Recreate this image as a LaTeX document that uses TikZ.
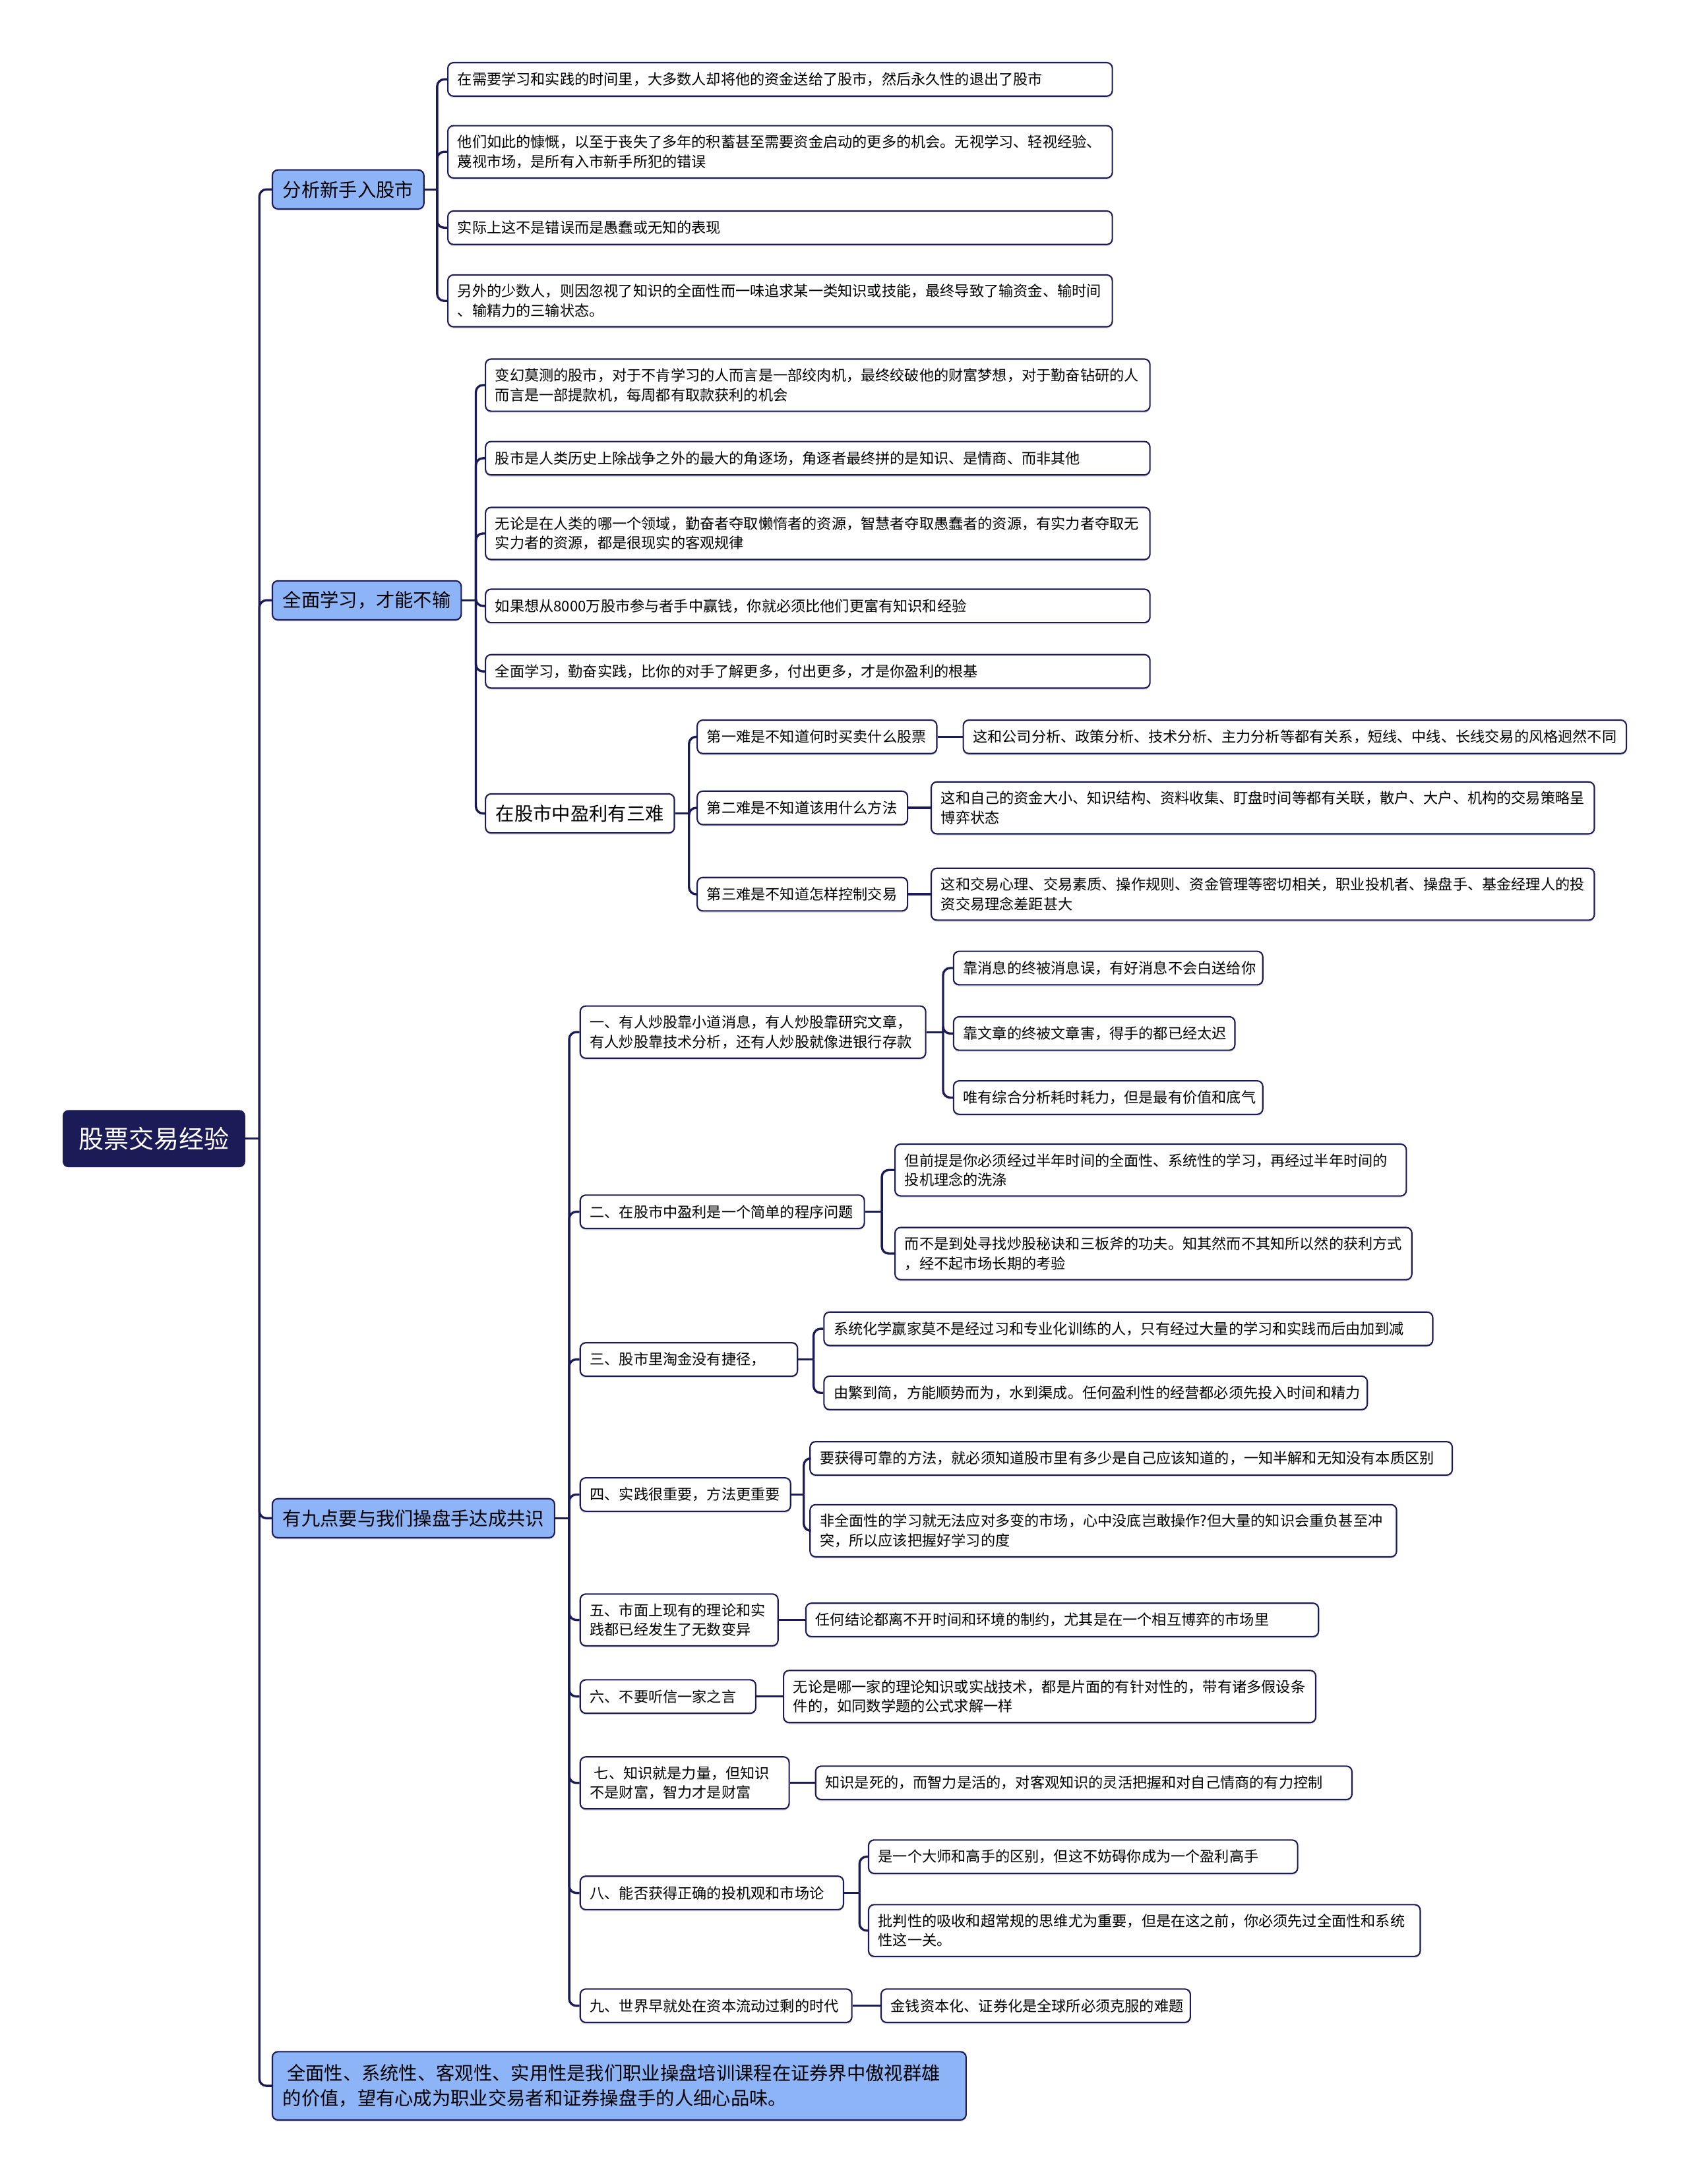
\documentclass[tikz,border=0pt]{standalone}
\usepackage{fontspec}
\setmainfont{Noto Sans CJK SC}
\usepackage{tikz}
\usetikzlibrary{positioning}
\usetikzlibrary{shadows}

\definecolor{navy}{RGB}{27,27,88}
\definecolor{topicblue}{RGB}{142,180,248}

\begin{document}
\begin{tikzpicture}[x=1pt, y=-1pt,
        root/.style={fill=navy, text=white, rounded corners=4pt, minimum width=131pt, minimum height=41pt,
            font=\fontsize{18}{22}\selectfont},
        topic/.style={draw=navy, fill=topicblue, line width=1pt, rounded corners=4pt, anchor=west,
            inner xsep=7.5pt, inner ysep=7pt, minimum height=28pt, align=left,
            font=\fontsize{13.4}{18}\selectfont,
            drop shadow={shadow xshift=0pt, shadow yshift=-1.2pt, opacity=0.3}},
        subtopic/.style={topic, fill=white},
        leaf/.style={draw=navy, fill=white, line width=1pt, rounded corners=4pt, anchor=west,
            inner xsep=7pt, inner ysep=6.7pt, minimum height=24pt, align=left,
            font=\fontsize{10.5}{14}\selectfont,
            drop shadow={shadow xshift=0pt, shadow yshift=-1.2pt, opacity=0.3}},
        link/.style={draw=navy, line width=1.6pt, rounded corners=5pt}]

        \useasboundingbox (0,0) rectangle (1212,1568);

        % root and main topics
        \node[root] (stock) at (110.5,817.5) {股票交易经验};
        \node[topic] (novice) at (195,136) {分析新手入股市};
        \node[topic] (learn) at (195,431) {全面学习，才能不输};
        \node[topic] (nine) at (195,1090) {有九点要与我们操盘手达成共识};
        \node[topic, text width=483pt, minimum height=49pt] (summary) at (195,1497.5)
            {\hspace*{3pt}全面性、系统性、客观性、实用性是我们职业操盘培训课程在证券界中傲视群雄\\的价值，望有心成为职业交易者和证券操盘手的人细心品味。};

        \coordinate[right=10pt of stock] (jstock);
        \draw[link] (stock.east) -- (jstock);
        \foreach \c in {novice,learn,nine,summary}
            \draw[link] (jstock) |- (\c.west);

        % novice branch
        \begin{scope}
            \node[leaf, text width=463pt] (novice1) at (321,57) {在需要学习和实践的时间里，大多数人却将他的资金送给了股市，然后永久性的退出了股市};
            \node[leaf, text width=463pt] (novice2) at (321,109) {他们如此的慷慨，以至于丧失了多年的积蓄甚至需要资金启动的更多的机会。无视学习、轻视经验、\\蔑视市场，是所有入市新手所犯的错误};
            \node[leaf, text width=463pt] (novice3) at (321,163.5) {实际上这不是错误而是愚蠢或无知的表现};
            \node[leaf, text width=463pt] (novice4) at (321,216) {另外的少数人，则因忽视了知识的全面性而一味追求某一类知识或技能，最终导致了输资金、输时间\\、输精力的三输状态。};

            \coordinate[right=9pt of novice] (jnovice);
            \draw[link] (novice.east) -- (jnovice);
            \foreach \c in {novice1,novice2,novice3,novice4}
                \draw[link] (jnovice) |- (\c.west);
        \end{scope}

        % learn branch
        \begin{scope}
            \node[leaf, text width=463pt] (learn1) at (348,276.5) {变幻莫测的股市，对于不肯学习的人而言是一部绞肉机，最终绞破他的财富梦想，对于勤奋钻研的人\\而言是一部提款机，每周都有取款获利的机会};
            \node[leaf, text width=463pt] (learn2) at (348,329) {股市是人类历史上除战争之外的最大的角逐场，角逐者最终拼的是知识、是情商、而非其他};
            \node[leaf, text width=463pt] (learn3) at (348,383) {无论是在人类的哪一个领域，勤奋者夺取懒惰者的资源，智慧者夺取愚蠢者的资源，有实力者夺取无\\实力者的资源，都是很现实的客观规律};
            \node[leaf, text width=463pt] (learn4) at (348,435) {如果想从8000万股市参与者手中赢钱，你就必须比他们更富有知识和经验};
            \node[leaf, text width=463pt] (learn5) at (348,482) {全面学习，勤奋实践，比你的对手了解更多，付出更多，才是你盈利的根基};
            \node[subtopic] (three) at (348,584) {在股市中盈利有三难};

            \coordinate[right=10pt of learn] (jlearn);
            \draw[link] (learn.east) -- (jlearn);
            \foreach \c in {learn1,learn2,learn3,learn4,learn5,three}
                \draw[link] (jlearn) |- (\c.west);

            % three difficulties
            \node[leaf, text width=158pt] (hard1) at (500,529) {第一难是不知道何时买卖什么股票};
            \node[leaf, text width=137pt] (hard2) at (500,580) {第二难是不知道该用什么方法};
            \node[leaf, text width=137pt] (hard3) at (500,642) {第三难是不知道怎样控制交易};
            \node[leaf, text width=462pt, right=18pt of hard1] (why1) {这和公司分析、政策分析、技术分析、主力分析等都有关系，短线、中线、长线交易的风格迥然不同};
            \node[leaf, text width=462pt, right=16pt of hard2] (why2) {这和自己的资金大小、知识结构、资料收集、盯盘时间等都有关联，散户、大户、机构的交易策略呈\\博弈状态};
            \node[leaf, text width=462pt, right=16pt of hard3] (why3) {这和交易心理、交易素质、操作规则、资金管理等密切相关，职业投机者、操盘手、基金经理人的投\\资交易理念差距甚大};

            \coordinate[right=10pt of three] (jthree);
            \draw[link] (three.east) -- (jthree);
            \foreach \c in {hard1,hard2,hard3}
                \draw[link] (jthree) |- (\c.west);
            \foreach \i in {1,2,3}
                \draw[link] (hard\i.east) -- (why\i.west);
        \end{scope}

        % nine points branch
        \begin{scope}
            \node[leaf, text width=234pt] (p1) at (416,741) {一、有人炒股靠小道消息，有人炒股靠研究文章，\\有人炒股靠技术分析，还有人炒股就像进银行存款};
            \node[leaf, text width=190pt] (p2) at (416,870) {二、在股市中盈利是一个简单的程序问题};
            \node[leaf, text width=142pt] (p3) at (416,976) {三、股市里淘金没有捷径，};
            \node[leaf, text width=137pt] (p4) at (416,1073) {四、实践很重要，方法更重要};
            \node[leaf, text width=128pt] (p5) at (416,1163) {五、市面上现有的理论和实\\践都已经发生了无数变异};
            \node[leaf, text width=112pt] (p6) at (416,1218) {六、不要听信一家之言};
            \node[leaf, text width=136pt] (p7) at (416,1280) {\hspace*{3pt}七、知识就是力量，但知识\\不是财富，智力才是财富};
            \node[leaf, text width=175pt] (p8) at (416,1359) {八、能否获得正确的投机观和市场论};
            \node[leaf, text width=181pt] (p9) at (416,1440) {九、世界早就处在资本流动过剩的时代};

            \coordinate[right=10pt of nine] (jnine);
            \draw[link] (nine.east) -- (jnine);
            \foreach \c in {p1,p2,p3,p4,p5,p6,p7,p8,p9}
                \draw[link] (jnine) |- (\c.west);

            % point one
            \node[leaf, text width=208pt] (p1a) at (684,695) {靠消息的终被消息误，有好消息不会白送给你};
            \node[leaf, text width=188pt] (p1b) at (684,742) {靠文章的终被文章害，得手的都已经太迟};
            \node[leaf, text width=208pt] (p1c) at (684,788) {唯有综合分析耗时耗力，但是最有价值和底气};
            \coordinate[right=12pt of p1] (jp1);
            \draw[link] (p1.east) -- (jp1);
            \foreach \c in {p1a,p1b,p1c}
                \draw[link] (jp1) |- (\c.west);

            % point two
            \node[leaf, text width=353pt] (p2a) at (642,840) {但前提是你必须经过半年时间的全面性、系统性的学习，再经过半年时间的\\投机理念的洗涤};
            \node[leaf, text width=357pt] (p2b) at (642,900) {而不是到处寻找炒股秘诀和三板斧的功夫。知其然而不其知所以然的获利方式\\，经不起市场长期的考验};
            \coordinate[right=12pt of p2] (jp2);
            \draw[link] (p2.east) -- (jp2);
            \foreach \c in {p2a,p2b}
                \draw[link] (jp2) |- (\c.west);

            % point three
            \node[leaf, text width=423pt] (p3a) at (591,954) {系统化学赢家莫不是经过习和专业化训练的人，只有经过大量的学习和实践而后由加到减};
            \node[leaf, text width=376pt] (p3b) at (591,1000) {由繁到简，方能顺势而为，水到渠成。任何盈利性的经营都必须先投入时间和精力};
            \coordinate[right=11pt of p3] (jp3);
            \draw[link] (p3.east) -- (jp3);
            \foreach \c in {p3a,p3b}
                \draw[link] (jp3) |- (\c.west);

            % point four
            \node[leaf, text width=447pt] (p4a) at (581,1047) {要获得可靠的方法，就必须知道股市里有多少是自己应该知道的，一知半解和无知没有本质区别};
            \node[leaf, text width=407pt] (p4b) at (581,1099) {非全面性的学习就无法应对多变的市场，心中没底岂敢操作?但大量的知识会重负甚至冲\\突，所以应该把握好学习的度};
            \coordinate[right=9pt of p4] (jp4);
            \draw[link] (p4.east) -- (jp4);
            \foreach \c in {p4a,p4b}
                \draw[link] (jp4) |- (\c.west);

            % points five to seven, one note each
            \node[leaf, text width=354pt, right=19pt of p5] (p5a) {任何结论都离不开时间和环境的制约，尤其是在一个相互博弈的市场里};
            \node[leaf, text width=368pt, right=19pt of p6] (p6a) {无论是哪一家的理论知识或实战技术，都是片面的有针对性的，带有诸多假设条\\件的，如同数学题的公式求解一样};
            \node[leaf, text width=371pt, right=18pt of p7] (p7a) {知识是死的，而智力是活的，对客观知识的灵活把握和对自己情商的有力控制};
            \foreach \i in {5,6,7}
                \draw[link] (p\i.east) -- (p\i a.west);

            % point eight
            \node[leaf, text width=294pt] (p8a) at (623,1333) {是一个大师和高手的区别，但这不妨碍你成为一个盈利高手};
            \node[leaf, text width=382pt] (p8b) at (623,1386) {批判性的吸收和超常规的思维尤为重要，但是在这之前，你必须先过全面性和系统\\性这一关。};
            \coordinate[right=11pt of p8] (jp8);
            \draw[link] (p8.east) -- (jp8);
            \foreach \c in {p8a,p8b}
                \draw[link] (jp8) |- (\c.west);

            % point nine
            \node[leaf, text width=208pt, right=20pt of p9] (p9a) {金钱资本化、证券化是全球所必须克服的难题};
            \draw[link] (p9.east) -- (p9a.west);
        \end{scope}

    \end{tikzpicture}
\end{document}
